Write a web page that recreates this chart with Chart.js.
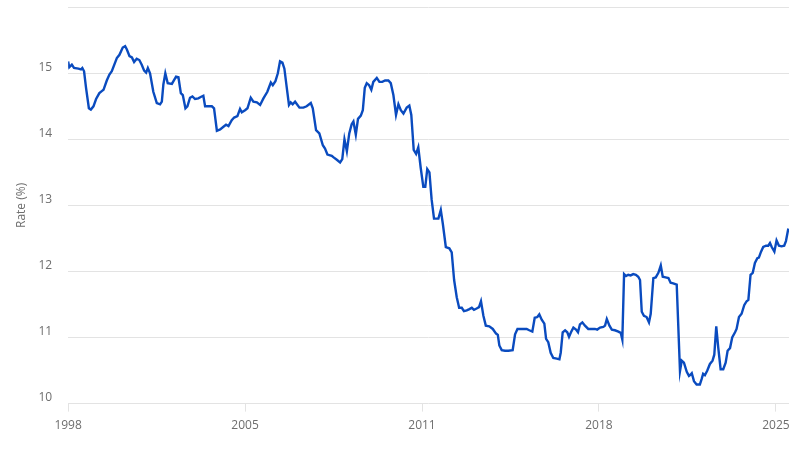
<!DOCTYPE html>
<html>
<head>
<meta charset="utf-8">
<script src="https://cdn.jsdelivr.net/npm/chart.js@4.4.1/dist/chart.umd.min.js"></script>
<style>
  html, body { margin: 0; padding: 0; background: #fff; }
  #wrap { width: 800px; height: 450px; position: relative; }
</style>
</head>
<body>
<div id="wrap"><canvas id="rateChart"></canvas></div>
<script>
// months counted from January 1998
const months = [
  0, 0.5, 1.7, 2.7, 4.7, 5.9, 6.5, 7.3, 8.2, 9.5,
  10.4, 11.6, 12.8, 14.3, 15.4, 16.2, 17.7, 18.9, 20, 21.5,
  22.3, 23.5, 25, 26.1, 26.9, 28.1, 29.2, 30.2, 31.4, 32.6,
  33.7, 34.8, 35.7, 36.5, 37.5, 39, 40.6, 42.1, 42.9, 43.6,
  44.5, 45.6, 47.5, 49.4, 50.5, 51.6, 52.5, 53.7, 54.6, 55.8,
  56.9, 58.1, 59.6, 60.7, 61.9, 62.7, 64.2, 65.8, 66.8, 68.1,
  69.6, 71.1, 72.3, 73.4, 74.9, 76, 77.5, 78.7, 79.5, 81,
  82.1, 83.6, 84.8, 86.4, 87.9, 89.4, 91.2, 92.8, 93.7, 94.9,
  96, 97, 98.1, 99, 100.1, 101.1, 101.9, 102.8, 103.9, 105.9,
  107.7, 109.2, 111.1, 112, 113.5, 115, 116.6, 117.6, 118.7, 120.7,
  121.4, 123, 124.5, 125.5, 126.5, 127.6, 128.7, 129.8, 130.6, 131.7,
  132.7, 134, 134.9, 135.8, 136.7, 137.8, 138.8, 139.7, 141.3, 142.5,
  143.8, 145.1, 146.6, 147.7, 148.9, 150.1, 151.2, 152.3, 153.5, 155,
  156.2, 157.1, 158.2, 159.3, 160.3, 161.4, 162.6, 163.5, 164.4, 165.4,
  166.4, 167.5, 169.5, 170.6, 171.5, 172.9, 174.5, 175.6, 176.7, 177.9,
  179, 180.2, 181.2, 182.5, 183.7, 184.8, 185.8, 187, 188.1, 189,
  190.1, 191.2, 192.8, 194.4, 195.9, 196.7, 197.4, 198.5, 200, 201.5,
  203.5, 204.6, 205.7, 207.7, 209.9, 211.1, 212.5, 213.6, 214.8, 215.7,
  216.8, 218, 218.8, 219.8, 220.9, 222.1, 223.7, 224.9, 225.5, 226.4,
  227.5, 228.5, 229.3, 230.2, 231.3, 232.5, 233.4, 234.3, 235.4, 236.6,
  238.1, 239.7, 241.2, 242.2, 243.5, 245, 245.8, 246.6, 247.8, 248.9,
  250.3, 251.9, 253, 253.7, 254.5, 255.4, 256.4, 257.5, 258.7, 259.9,
  261, 261.8, 262.6, 263.6, 264.8, 265.9, 266.7, 267.9, 269, 270.2,
  271.3, 272.2, 273.5, 274.8, 275.8, 277, 278.6, 280.1, 280.9, 281.9,
  283.2, 284.2, 285, 285.5, 286.5, 287.7, 289.2, 290, 290.7, 291.5,
  292.6, 293.8, 295, 295.8, 296.7, 297.6, 298.7, 299.9, 301, 301.9,
  303, 304, 305.3, 306, 307.1, 308.3, 309.5, 310.6, 311.4, 312.4,
  313.4, 314.4, 315.5, 316.2, 317.2, 318.2, 319.5, 320.5, 321.3, 322.1,
  323.3, 324.3, 325.4, 326.6, 327.8, 328.6, 329.7
];

const rates = [
  15.18, 15.09, 15.13, 15.08, 15.07, 15.06, 15.08, 15.03, 14.78, 14.47,
  14.45, 14.50, 14.61, 14.70, 14.73, 14.75, 14.89, 14.98, 15.03, 15.16,
  15.23, 15.28, 15.39, 15.41, 15.36, 15.26, 15.24, 15.17, 15.22, 15.20,
  15.13, 15.04, 15.01, 15.08, 15.00, 14.72, 14.55, 14.53, 14.57, 14.83,
  15.00, 14.85, 14.84, 14.95, 14.94, 14.70, 14.67, 14.47, 14.50, 14.63,
  14.65, 14.61, 14.62, 14.64, 14.66, 14.50, 14.50, 14.50, 14.47, 14.13,
  14.15, 14.19, 14.22, 14.20, 14.29, 14.33, 14.35, 14.46, 14.41, 14.44,
  14.47, 14.63, 14.57, 14.56, 14.52, 14.62, 14.72, 14.86, 14.82, 14.88,
  15.00, 15.18, 15.16, 15.07, 14.78, 14.52, 14.56, 14.53, 14.57, 14.48,
  14.48, 14.50, 14.55, 14.47, 14.14, 14.09, 13.91, 13.86, 13.77, 13.75,
  13.73, 13.69, 13.65, 13.70, 14.00, 13.82, 14.09, 14.23, 14.27, 14.07,
  14.31, 14.36, 14.44, 14.78, 14.85, 14.82, 14.75, 14.87, 14.93, 14.87,
  14.87, 14.89, 14.89, 14.85, 14.67, 14.37, 14.53, 14.44, 14.39, 14.48,
  14.51, 14.37, 13.84, 13.78, 13.88, 13.57, 13.28, 13.28, 13.55, 13.50,
  13.09, 12.80, 12.80, 12.93, 12.73, 12.37, 12.35, 12.29, 11.87, 11.61,
  11.45, 11.45, 11.40, 11.41, 11.43, 11.45, 11.42, 11.44, 11.46, 11.55,
  11.33, 11.18, 11.17, 11.13, 11.06, 11.04, 10.88, 10.81, 10.80, 10.80,
  10.81, 11.05, 11.13, 11.13, 11.13, 11.11, 11.09, 11.30, 11.31, 11.35,
  11.27, 11.21, 10.98, 10.93, 10.77, 10.69, 10.68, 10.67, 10.77, 11.08,
  11.11, 11.08, 11.01, 11.08, 11.15, 11.12, 11.08, 11.20, 11.23, 11.18,
  11.13, 11.13, 11.13, 11.12, 11.15, 11.16, 11.18, 11.28, 11.18, 11.12,
  11.11, 11.09, 11.07, 10.97, 11.96, 11.93, 11.95, 11.94, 11.96, 11.95,
  11.92, 11.87, 11.39, 11.33, 11.31, 11.23, 11.36, 11.90, 11.91, 11.98,
  12.09, 11.92, 11.91, 11.90, 11.83, 11.82, 11.80, 10.49, 10.65, 10.62,
  10.48, 10.42, 10.44, 10.46, 10.34, 10.29, 10.29, 10.37, 10.45, 10.43,
  10.50, 10.60, 10.65, 10.74, 11.17, 10.85, 10.52, 10.52, 10.62, 10.80,
  10.84, 11.00, 11.08, 11.13, 11.31, 11.36, 11.49, 11.55, 11.57, 11.95,
  11.98, 12.13, 12.20, 12.21, 12.30, 12.37, 12.39, 12.39, 12.43, 12.37,
  12.30, 12.47, 12.39, 12.38, 12.39, 12.46, 12.65
];

// x axis ticks (month offsets) and their labels
const tickMonths = [0, 81, 162, 243, 324];
const tickLabels = ['1998', '2005', '2011', '2018', '2025'];

const yTicks = [10, 11, 12, 13, 14, 15, 16];

const points = months.map((m, i) => ({ x: m, y: rates[i] }));

const ctx = document.getElementById('rateChart').getContext('2d');
const myChart = new Chart(ctx, {
  type: 'line',
  data: {
    datasets: [{
      label: 'Rate (%)',
      data: points,
      borderColor: '#0a4bbf',
      borderWidth: 2.4,
      pointRadius: 0,
      tension: 0,
      fill: false
    }]
  },
  options: {
    responsive: true,
    maintainAspectRatio: false,
    animation: false,
    layout: { padding: { left: 3, right: 11, top: 3, bottom: 10 } },
    plugins: {
      legend: { display: false },
      tooltip: { enabled: false }
    },
    scales: {
      x: {
        type: 'linear',
        min: 0,
        max: 330,
        afterBuildTicks: (axis) => {
          axis.ticks = tickMonths.map(v => ({ value: v }));
        },
        ticks: {
          autoSkip: false,
          maxRotation: 0,
          padding: 7,
          color: '#6e6e6e',
          font: { family: 'Open Sans', size: 12 },
          callback: (value) => {
            const i = tickMonths.indexOf(value);
            return i >= 0 ? tickLabels[i] : '';
          }
        },
        grid: {
          drawOnChartArea: false,
          drawTicks: true,
          tickLength: 8,
          color: '#e3e3e3'
        },
        border: { display: false }
      },
      y: {
        min: 10,
        max: 16,
        afterBuildTicks: (axis) => {
          axis.ticks = yTicks.map(v => ({ value: v }));
        },
        ticks: {
          padding: 0,
          labelOffset: -6,
          color: '#6e6e6e',
          font: { family: 'Open Sans', size: 12 },
          callback: (value) => (value === 16 ? '' : value)
        },
        grid: {
          color: '#e3e3e3',
          drawTicks: true,
          tickLength: 16,
          tickColor: 'rgba(0,0,0,0)'
        },
        border: { display: false },
        title: {
          display: true,
          text: 'Rate (%)',
          color: '#6e6e6e',
          font: { family: 'Open Sans', size: 12 },
          padding: { top: 11, bottom: 10 }
        }
      }
    }
  }
});
</script>
</body>
</html>
